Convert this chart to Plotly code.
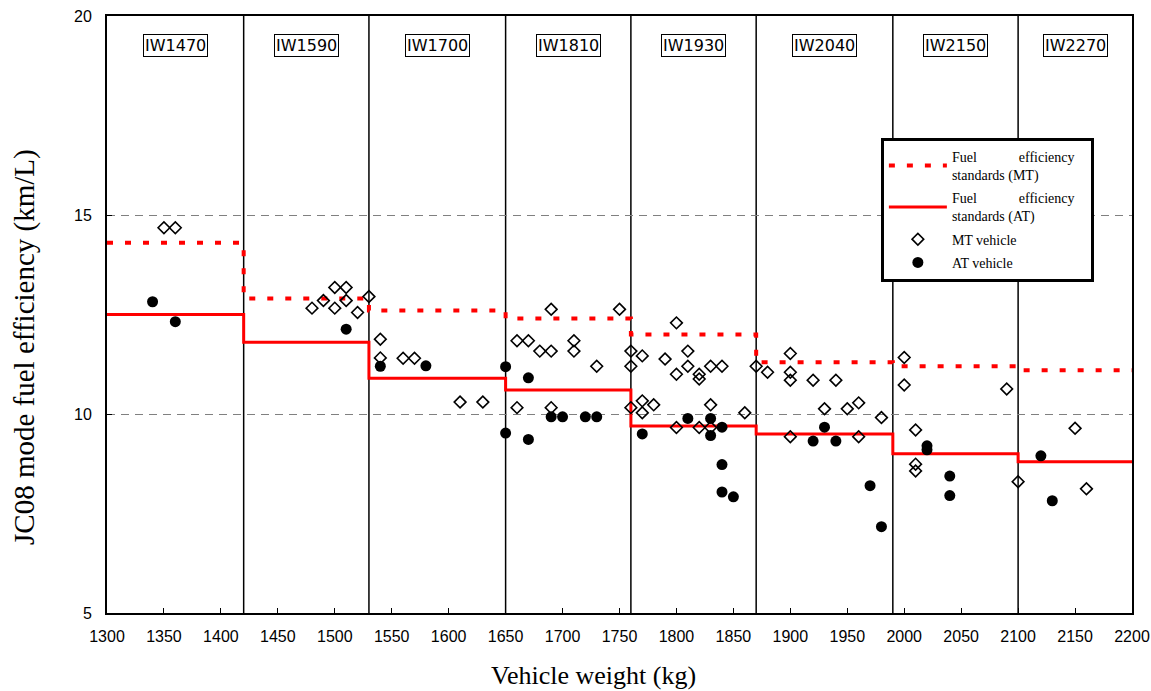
import plotly.graph_objects as go

# Weight class boundaries (kg) and class labels
bounds = [1300, 1420, 1530, 1650, 1760, 1870, 1990, 2100, 2200]
class_labels = ["IW1470", "IW1590", "IW1700", "IW1810", "IW1930", "IW2040", "IW2150", "IW2270"]

# Fuel efficiency standards per class (km/L)
std_mt = [14.3, 12.9, 12.6, 12.4, 12.0, 11.3, 11.2, 11.1]
std_at = [12.5, 11.8, 10.9, 10.6, 9.7, 9.5, 9.0, 8.8]

# MT vehicles
mt_x = [1350, 1360,
        1480, 1490, 1500, 1500, 1510, 1510, 1520, 1530,
        1540, 1540, 1560, 1570, 1610, 1630,
        1660, 1670, 1680, 1690, 1690, 1710, 1710, 1730, 1750, 1660, 1690,
        1760, 1760, 1760, 1770, 1770, 1770, 1780, 1790, 1800, 1800, 1800, 1810, 1810,
        1820, 1820, 1820, 1830, 1830, 1830, 1840, 1860, 1870,
        1880, 1900, 1900, 1900, 1900, 1920, 1930, 1940, 1950, 1960, 1960, 1980,
        2000, 2000, 2010, 2010, 2010, 2090, 2100, 2150, 2160]
mt_y = [14.68, 14.68,
        12.66, 12.85, 13.18, 12.66, 13.18, 12.85, 12.55, 12.95,
        11.88, 11.41, 11.40, 11.40, 10.30, 10.30,
        11.84, 11.84, 11.58, 11.58, 12.63, 11.84, 11.58, 11.20, 12.63, 10.16, 10.16,
        11.58, 11.20, 10.16, 11.46, 10.33, 10.03, 10.23, 11.38, 12.29, 11.00, 9.66, 11.58, 11.20,
        11.00, 10.88, 9.66, 11.20, 10.23, 9.66, 11.20, 10.03, 11.20,
        11.05, 11.52, 11.05, 10.85, 9.43, 10.85, 10.13, 10.85, 10.13, 10.28, 9.43, 9.91,
        11.42, 10.73, 9.60, 8.74, 8.57, 10.63, 8.30, 9.64, 8.12]

# AT vehicles
at_x = [1340, 1360, 1510, 1540, 1580, 1650, 1650, 1670, 1670, 1690, 1700, 1720, 1730,
        1770, 1810, 1830, 1830, 1840, 1840, 1840, 1850,
        1920, 1930, 1940, 1970, 1980, 2020, 2020, 2040, 2040, 2120, 2130]
at_y = [12.82, 12.32, 12.13, 11.20, 11.21, 11.19, 9.52, 10.91, 9.36, 9.93, 9.93, 9.93, 9.93,
        9.50, 9.89, 9.89, 9.46, 9.67, 8.73, 8.04, 7.92,
        9.32, 9.67, 9.32, 8.20, 7.17, 9.20, 9.10, 8.44, 7.95, 8.95, 7.82]

x_title = "Vehicle weight (kg)"
y_title = "JC08 mode fuel efficiency (km/L)"

SERIF = "Liberation Serif, Times New Roman, serif"
SANS = "Liberation Sans, Arial, sans-serif"
LABEL_FONT = "DejaVu Sans, Verdana, sans-serif"

fig = go.Figure()

fig.add_trace(go.Scatter(
    x=bounds, y=std_mt + [std_mt[-1]], mode="lines", line_shape="hv",
    line=dict(color="#ff0000", width=4, dash="6px,12px"), legendgroup="a",
    name="Fuel            efficiency   <br>standards (MT)"))
fig.add_trace(go.Scatter(
    x=bounds, y=std_at + [std_at[-1]], mode="lines", line_shape="hv",
    line=dict(color="#ff0000", width=3), legendgroup="b",
    name="Fuel            efficiency   <br>standards (AT)"))
fig.add_trace(go.Scatter(
    x=mt_x, y=mt_y, mode="markers", legendgroup="c",
    marker=dict(symbol="diamond-open", size=9, color="black", line=dict(width=1.6, color="black")),
    name="MT vehicle"))
fig.add_trace(go.Scatter(
    x=at_x, y=at_y, mode="markers", legendgroup="d",
    marker=dict(symbol="circle", size=11, color="black"),
    name="AT vehicle"))

# Class boundary lines
for b in bounds[1:-1]:
    fig.add_shape(type="line", xref="x", yref="paper", x0=b, x1=b, y0=0, y1=1,
                  line=dict(color="black", width=1.5), layer="below")

# Class labels
for i, lab in enumerate(class_labels):
    mid = (bounds[i] + bounds[i + 1]) / 2
    fig.add_annotation(x=mid, xref="x", y=0.951, yref="paper", yanchor="middle",
                       text=lab, showarrow=False,
                       font=dict(family=LABEL_FONT, size=16, color="black"),
                       bordercolor="black", borderwidth=1, borderpad=1, bgcolor="white")

# Axis titles (placed as in the reference, slightly off-centre)
fig.add_annotation(text=x_title, xref="paper", yref="paper", x=0.475, y=-0.104,
                   xanchor="center", yanchor="middle", showarrow=False,
                   font=dict(family=SERIF, size=26, color="black"))
fig.add_annotation(text=y_title, xref="paper", yref="paper", x=-0.080, y=0.4456,
                   xanchor="center", yanchor="middle", showarrow=False, textangle=-90,
                   font=dict(family=SERIF, size=29, color="black"))

fig.update_layout(
    width=1151, height=691,
    margin=dict(l=107, r=19, t=16, b=78),
    plot_bgcolor="white", paper_bgcolor="white",
    showlegend=True,
    legend=dict(x=0.755, y=0.796, xanchor="left", yanchor="top",
                bordercolor="black", borderwidth=3, bgcolor="white",
                font=dict(family=SERIF, size=14, color="black"),
                itemwidth=58, tracegroupgap=2),
    xaxis=dict(range=[1300, 2200], dtick=50, tick0=1300, ticks="inside", ticklen=5,
               tickcolor="black", showline=True, linecolor="black", linewidth=2, mirror=True,
               showgrid=False, zeroline=False, automargin=False, ticklabelstandoff=8,
               tickfont=dict(family=SANS, size=16, color="black")),
    yaxis=dict(range=[5, 20], tickvals=[5, 10, 15, 20], ticks="inside", ticklen=5,
               tickcolor="black", showline=True, linecolor="black", linewidth=2, mirror=True,
               showgrid=True, gridcolor="#808080", griddash="8px,6px", gridwidth=1, zeroline=False,
               automargin=False, ticklabelstandoff=10,
               tickfont=dict(family=SANS, size=16, color="black")),
)

fig.write_html("out.html", config={"displayModeBar": False},
               post_script="document.body.style.margin='0';")
